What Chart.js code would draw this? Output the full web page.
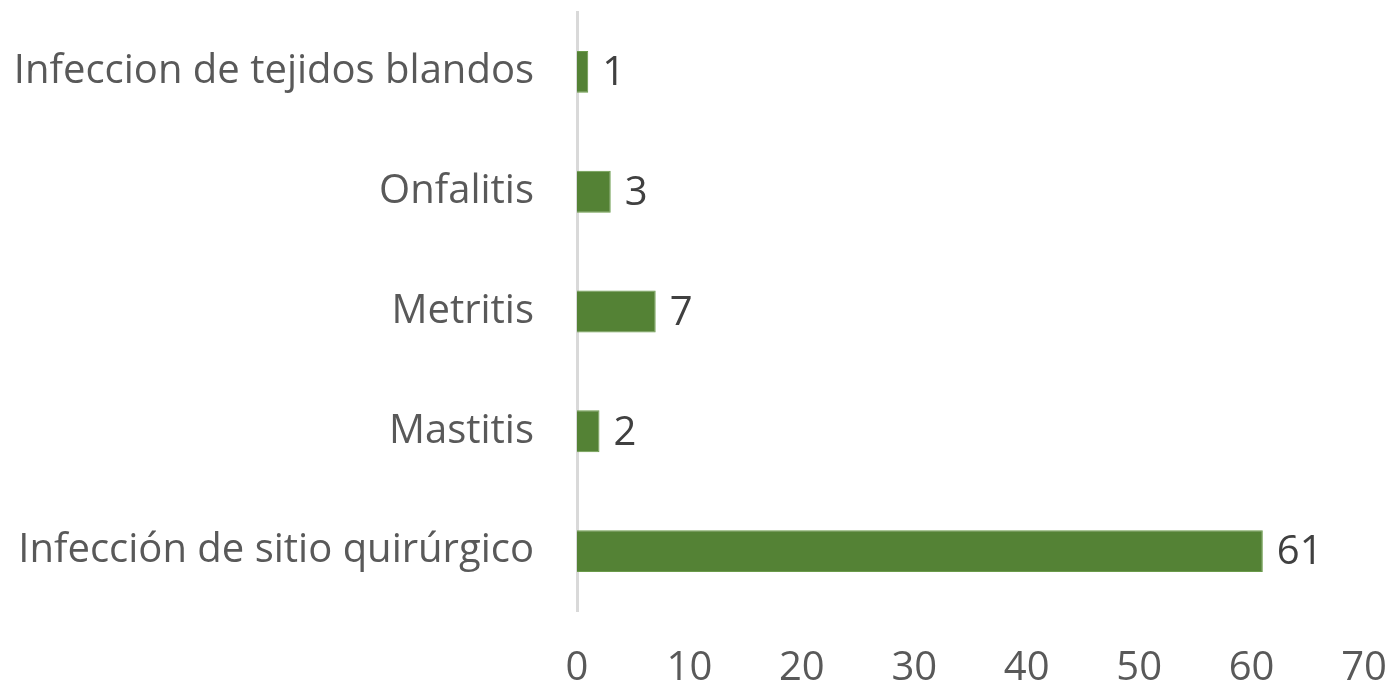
<!DOCTYPE html>
<html>
<head>
<meta charset="utf-8">
<script src="https://cdn.jsdelivr.net/npm/chart.js@4/dist/chart.umd.min.js"></script>
<style>
html,body{margin:0;padding:0;background:#fff;}
#wrap{width:1396px;height:689px;position:relative;}
</style>
</head>
<body>
<div id="wrap"><canvas id="c" width="1396" height="689"></canvas></div>
<script>
const categories = ["Infeccion de tejidos blandos", "Onfalitis", "Metritis", "Mastitis", "Infección de sitio quirúrgico"];
const values = [1, 3, 7, 2, 61];
const xTicks = [0, 10, 20, 30, 40, 50, 60, 70];

const FONT = "'Open Sans', sans-serif";

const valueLabels = {
  id: 'valueLabels',
  afterDatasetsDraw(chart) {
    const ctx = chart.ctx;
    const meta = chart.getDatasetMeta(0);
    ctx.save();
    ctx.font = "40px " + FONT;
    ctx.fillStyle = '#404040';
    ctx.textAlign = 'left';
    ctx.textBaseline = 'middle';
    meta.data.forEach((bar, i) => {
      ctx.fillText(String(values[i]), bar.x + 14, bar.y + 2);
    });
    ctx.restore();
  }
};

function noPad(scale) {
  scale.paddingTop = 0; scale.paddingBottom = 0;
  scale.paddingLeft = 0; scale.paddingRight = 0;
}

new Chart(document.getElementById('c'), {
  type: 'bar',
  data: {
    labels: categories,
    datasets: [{
      data: values,
      backgroundColor: '#548235',
      borderColor: '#6a9a4a',
      borderWidth: 1,
      barPercentage: 0.35,
      categoryPercentage: 1.0
    }]
  },
  options: {
    indexAxis: 'y',
    responsive: false,
    animation: false,
    devicePixelRatio: 1,
    layout: { padding: { left: 0, right: 32, top: 12, bottom: 0 } },
    plugins: { legend: { display: false }, tooltip: { enabled: false } },
    scales: {
      x: {
        min: 0, max: 70,
        afterBuildTicks(scale) { scale.ticks = xTicks.map(v => ({ value: v })); },
        afterFit(scale) { scale.height = 78; noPad(scale); },
        grid: { display: false, drawTicks: false },
        border: { display: false },
        ticks: { color: '#595959', font: { family: FONT, size: 40 }, padding: 34, maxRotation: 0, autoSkip: false }
      },
      y: {
        afterFit(scale) { scale.width = 577; noPad(scale); },
        grid: { display: false, drawTicks: false },
        border: { display: true, color: '#d9d9d9', width: 3 },
        ticks: { color: '#595959', font: { family: FONT, size: 40 }, padding: 43 }
      }
    }
  },
  plugins: [valueLabels]
});
</script>
</body>
</html>
